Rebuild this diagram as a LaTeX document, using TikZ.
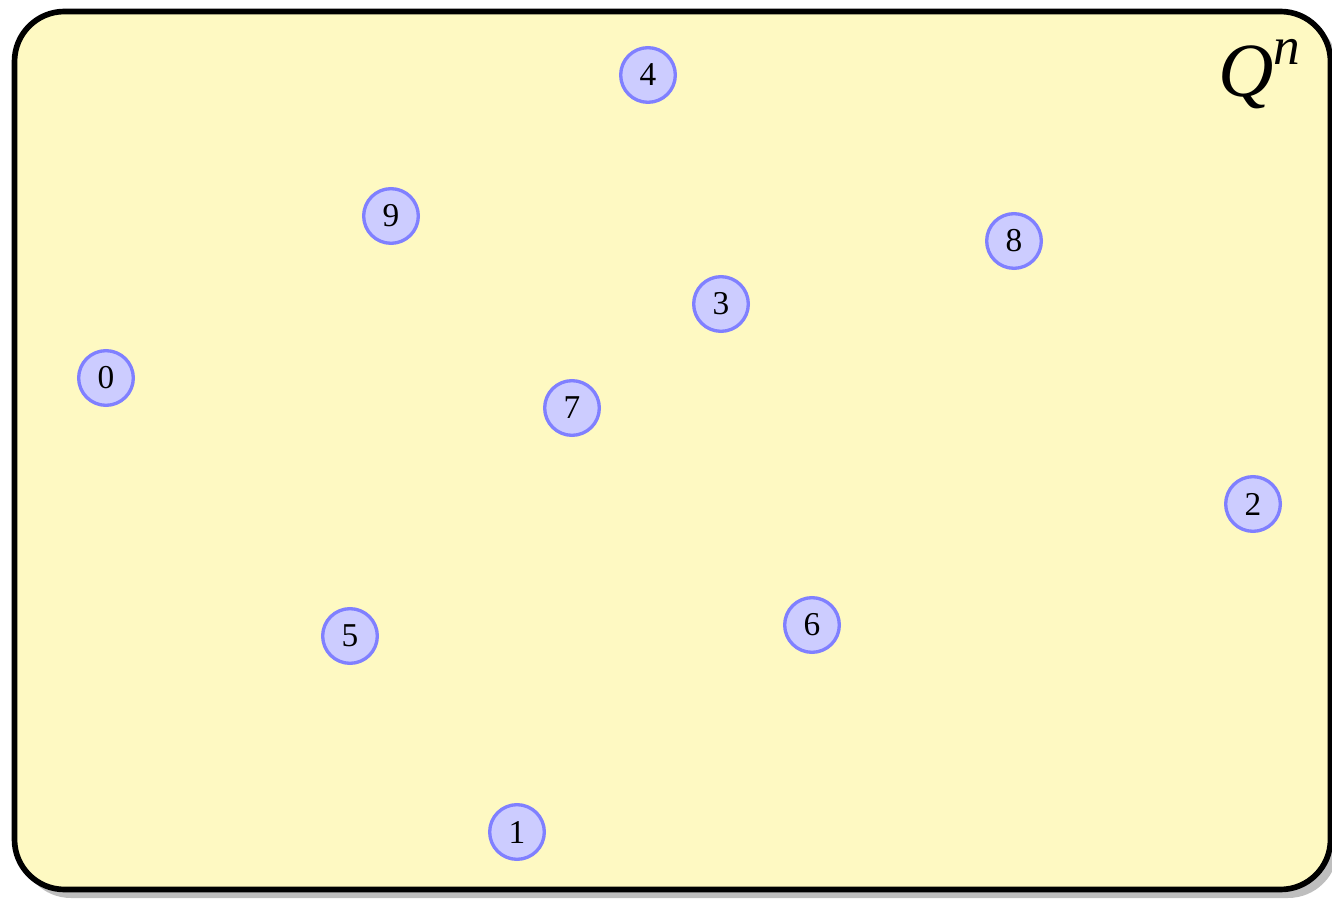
\documentclass[tikz,border=0pt]{standalone}
\usepackage{fontspec}
\setmainfont{Liberation Serif}
\definecolor{boxfill}{RGB}{254,249,194}
\definecolor{shadowgray}{RGB}{190,190,190}
\tikzset{
  vertex/.style={circle, fill=blue!20, draw=blue!50, line width=1pt, minimum size=16.4pt, inner sep=0pt, font=\fontsize{10}{12}\selectfont},
  frame/.style={rounded corners=15pt, line width=1.7pt, draw=black, fill=boxfill},
}
\begin{document}
\begin{tikzpicture}[x=0.3pt,y=-0.3pt]
\useasboundingbox (0,0) rectangle (1332,901);
\fill[shadowgray, rounded corners=15pt] (21,18) rectangle (1338,898);
\draw[frame] (14.5,11.5) rectangle (1330.5,889.5);
\node[font=\fontsize{23}{26}\selectfont\itshape, inner sep=0pt] (label) at (1259,74) {Q\raisebox{0.42em}{\fontsize{16}{18}\selectfont n}};
\node[vertex] (n4) at (648,75) {4};
\node[vertex] (n9) at (391,216) {9};
\node[vertex] (n8) at (1014,241) {8};
\node[vertex] (n3) at (721,304) {3};
\node[vertex] (n0) at (106,378) {0};
\node[vertex] (n7) at (572,408) {7};
\node[vertex] (n2) at (1253,504) {2};
\node[vertex] (n5) at (350,636) {5};
\node[vertex] (n6) at (812,625) {6};
\node[vertex] (n1) at (517,832) {1};
\end{tikzpicture}
\end{document}
